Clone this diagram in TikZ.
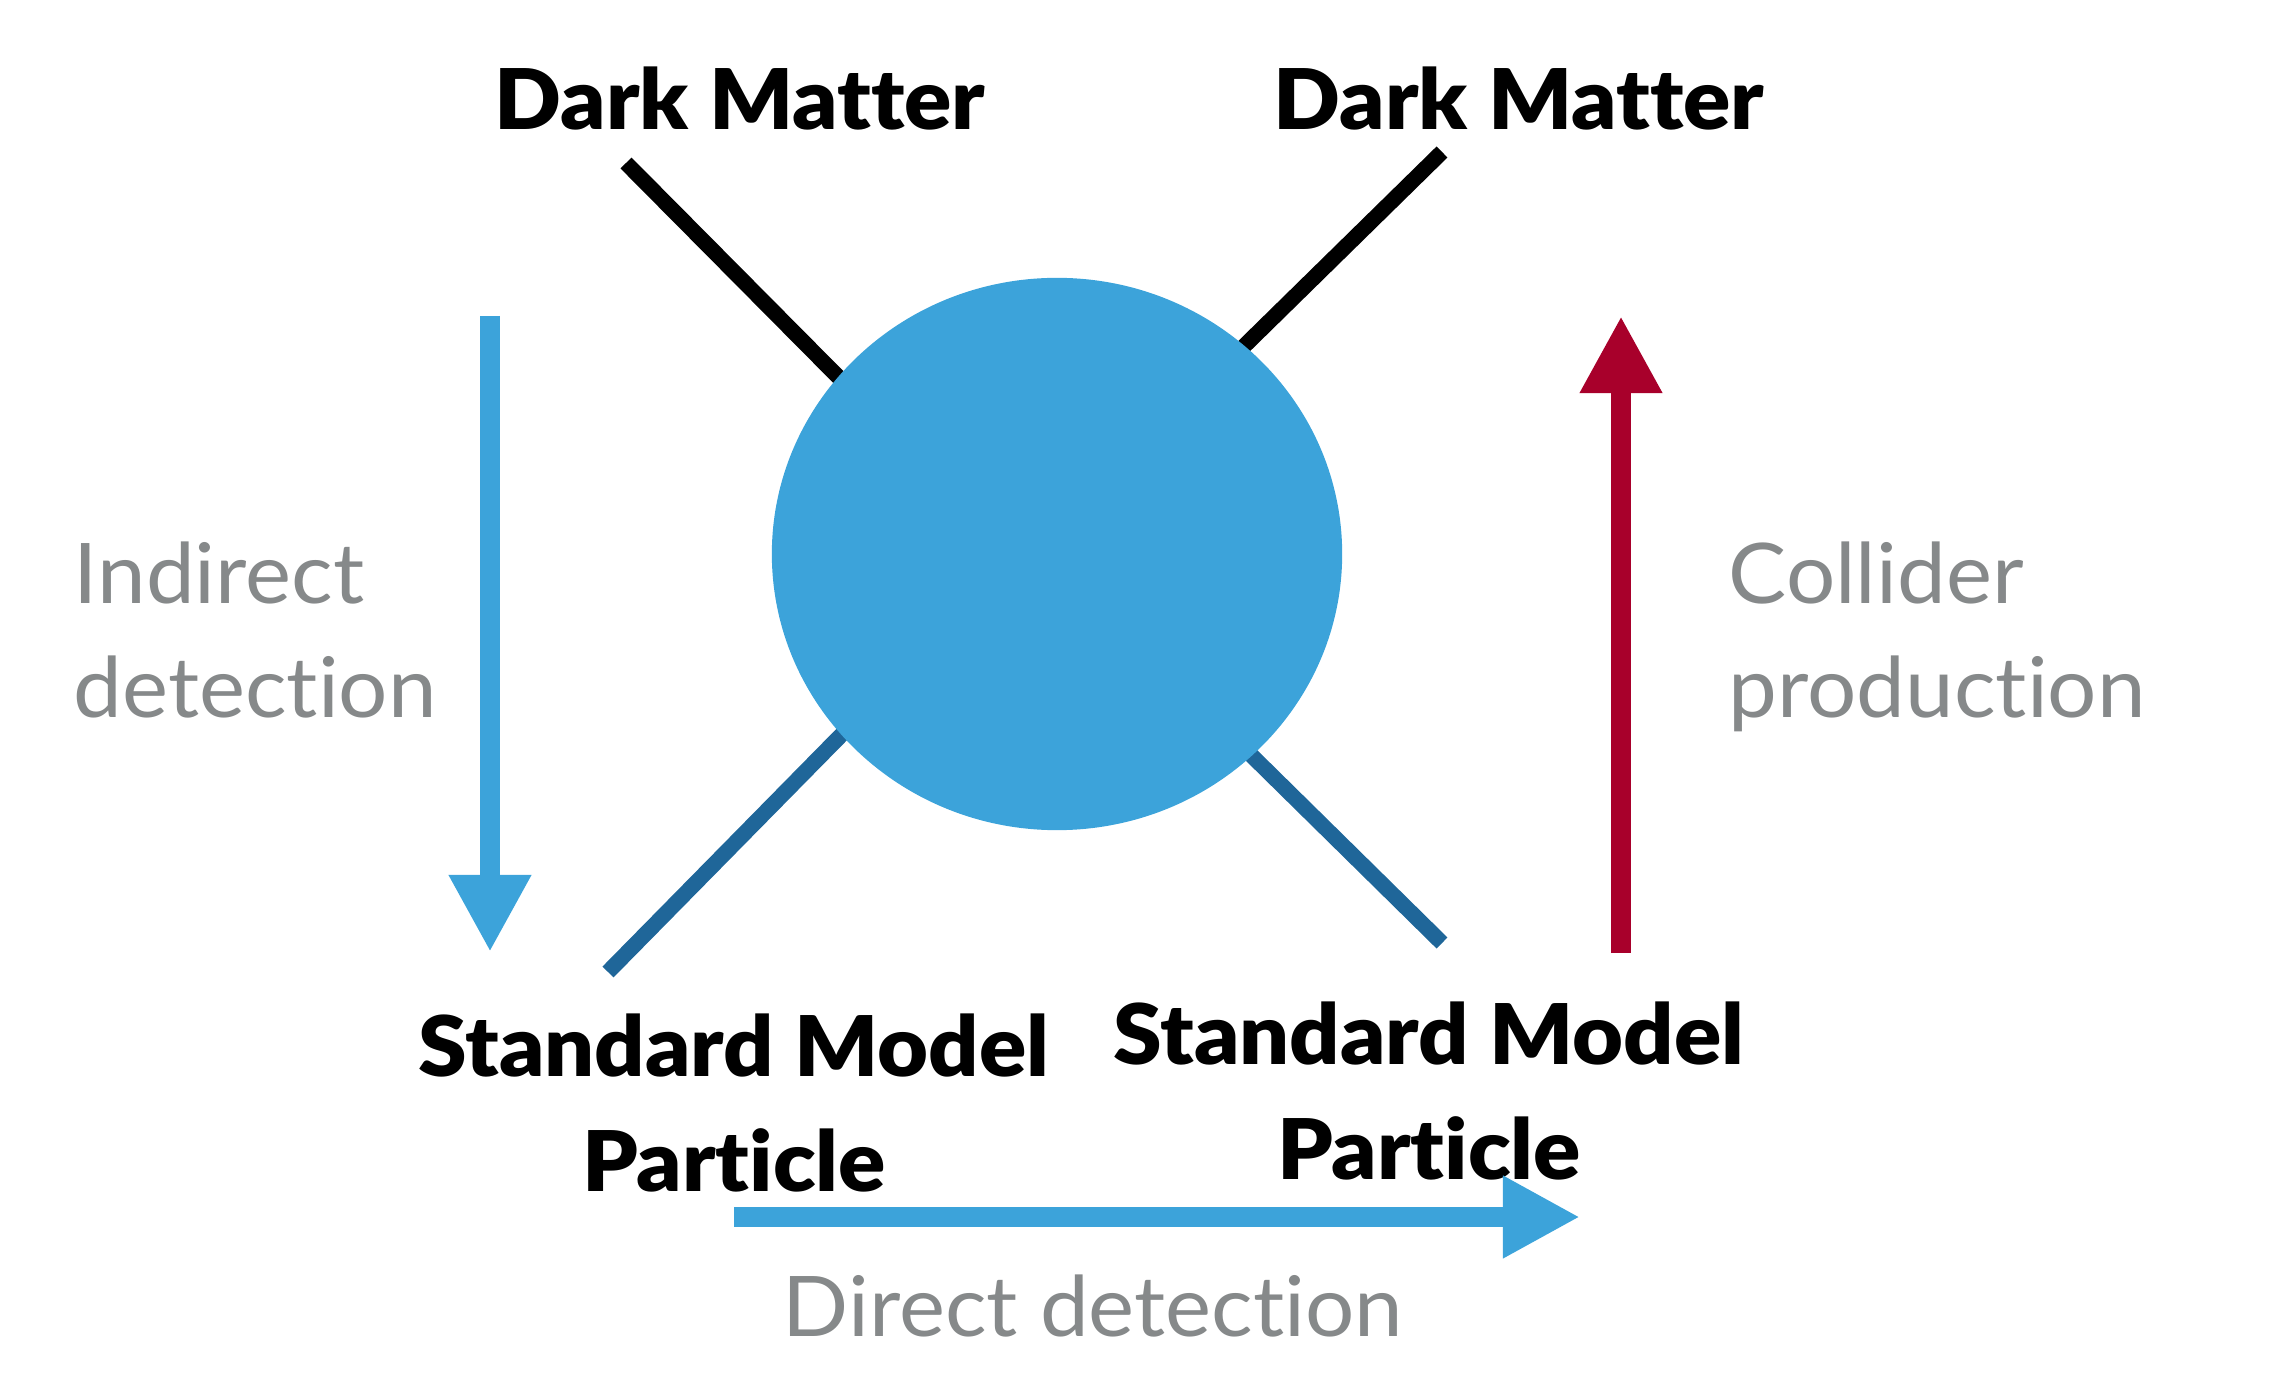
\documentclass[tikz,border=0pt]{standalone}
\usepackage{fontspec}
\setmainfont{Lato}[Ligatures=NoCommon]
\newfontfamily\labelfont{Lato}[Ligatures=NoCommon, FakeStretch=1.04]
\newfontfamily\partfont{Lato Black}[Ligatures=NoCommon, FakeStretch=1.05]
\definecolor{blobblue}{RGB}{60, 163, 218}
\definecolor{smblue}{RGB}{31, 102, 153}
\definecolor{colred}{RGB}{168, 0, 43}
\definecolor{labelgray}{RGB}{134, 137, 138}
\usetikzlibrary{shapes.geometric, arrows.meta, positioning, backgrounds}

\begin{document}
\begin{tikzpicture}[x=0.01cm, y=-0.01cm,
  blob/.style={ellipse, fill=blobblue, minimum width=5.70cm, minimum height=5.52cm, inner sep=0pt},
  dmline/.style={line width=0.155cm, black, shorten <=-0.2cm},
  smline/.style={line width=0.155cm, smblue, shorten <=-0.2cm},
  bigarrow/.style={line width=0.195cm, -{Triangle[length=0.77cm, width=0.77cm]}},
  partlabel/.style={font=\fontsize{23.8}{32.7}\selectfont\partfont, align=center, inner sep=0pt, anchor=base},
  proclabel/.style={font=\fontsize{23.8}{32.7}\selectfont\labelfont, text=labelgray, inner sep=0pt}
]
  \useasboundingbox (0,0) rectangle (2292,1386);

  \node[blob] (blob) at (1057,554) {};

  % free ends of the four legs
  \coordinate (dmLend) at (626,163);
  \coordinate (dmRend) at (1442,152);
  \coordinate (smLend) at (608,972);
  \coordinate (smRend) at (1442,943);

  \begin{scope}[on background layer]
    \draw[dmline] (blob.141) -- (dmLend);
    \draw[dmline] (blob.48) -- (dmRend);
    \draw[smline] (blob.220) -- (smLend);
    \draw[smline] (blob.314) -- (smRend);
  \end{scope}

  \node[partlabel] (dmL) at (740,130) {Dark Matter};
  \node[partlabel] (dmR) at (1519,130) {Dark Matter};
  \node[partlabel] (smL) at (734,1191) {Standard Model\\Particle};
  \node[partlabel] (smR) at (1429,1179) {Standard Model\\Particle};

  % process arrows
  \coordinate (indtop) at (490,316);
  \coordinate (indtip) at (490,952);
  \coordinate (colbot) at (1621,953);
  \coordinate (coltip) at (1621,316);
  \coordinate (dirstart) at (734,1217);
  \coordinate (dirtip) at (1580,1217);

  \draw[bigarrow, blobblue] (indtop) -- (indtip);
  \draw[bigarrow, colred] (colbot) -- (coltip);
  \draw[bigarrow, blobblue] (dirstart) -- (dirtip);

  \node[proclabel, align=left, anchor=base west] (indirect) at (73,718) {Indirect\\detection};
  \node[proclabel, align=left, anchor=base west] (collider) at (1728,718) {Collider\\production};
  \node[proclabel, anchor=base] (direct) at (1093,1336) {Direct detection};
\end{tikzpicture}
\end{document}
